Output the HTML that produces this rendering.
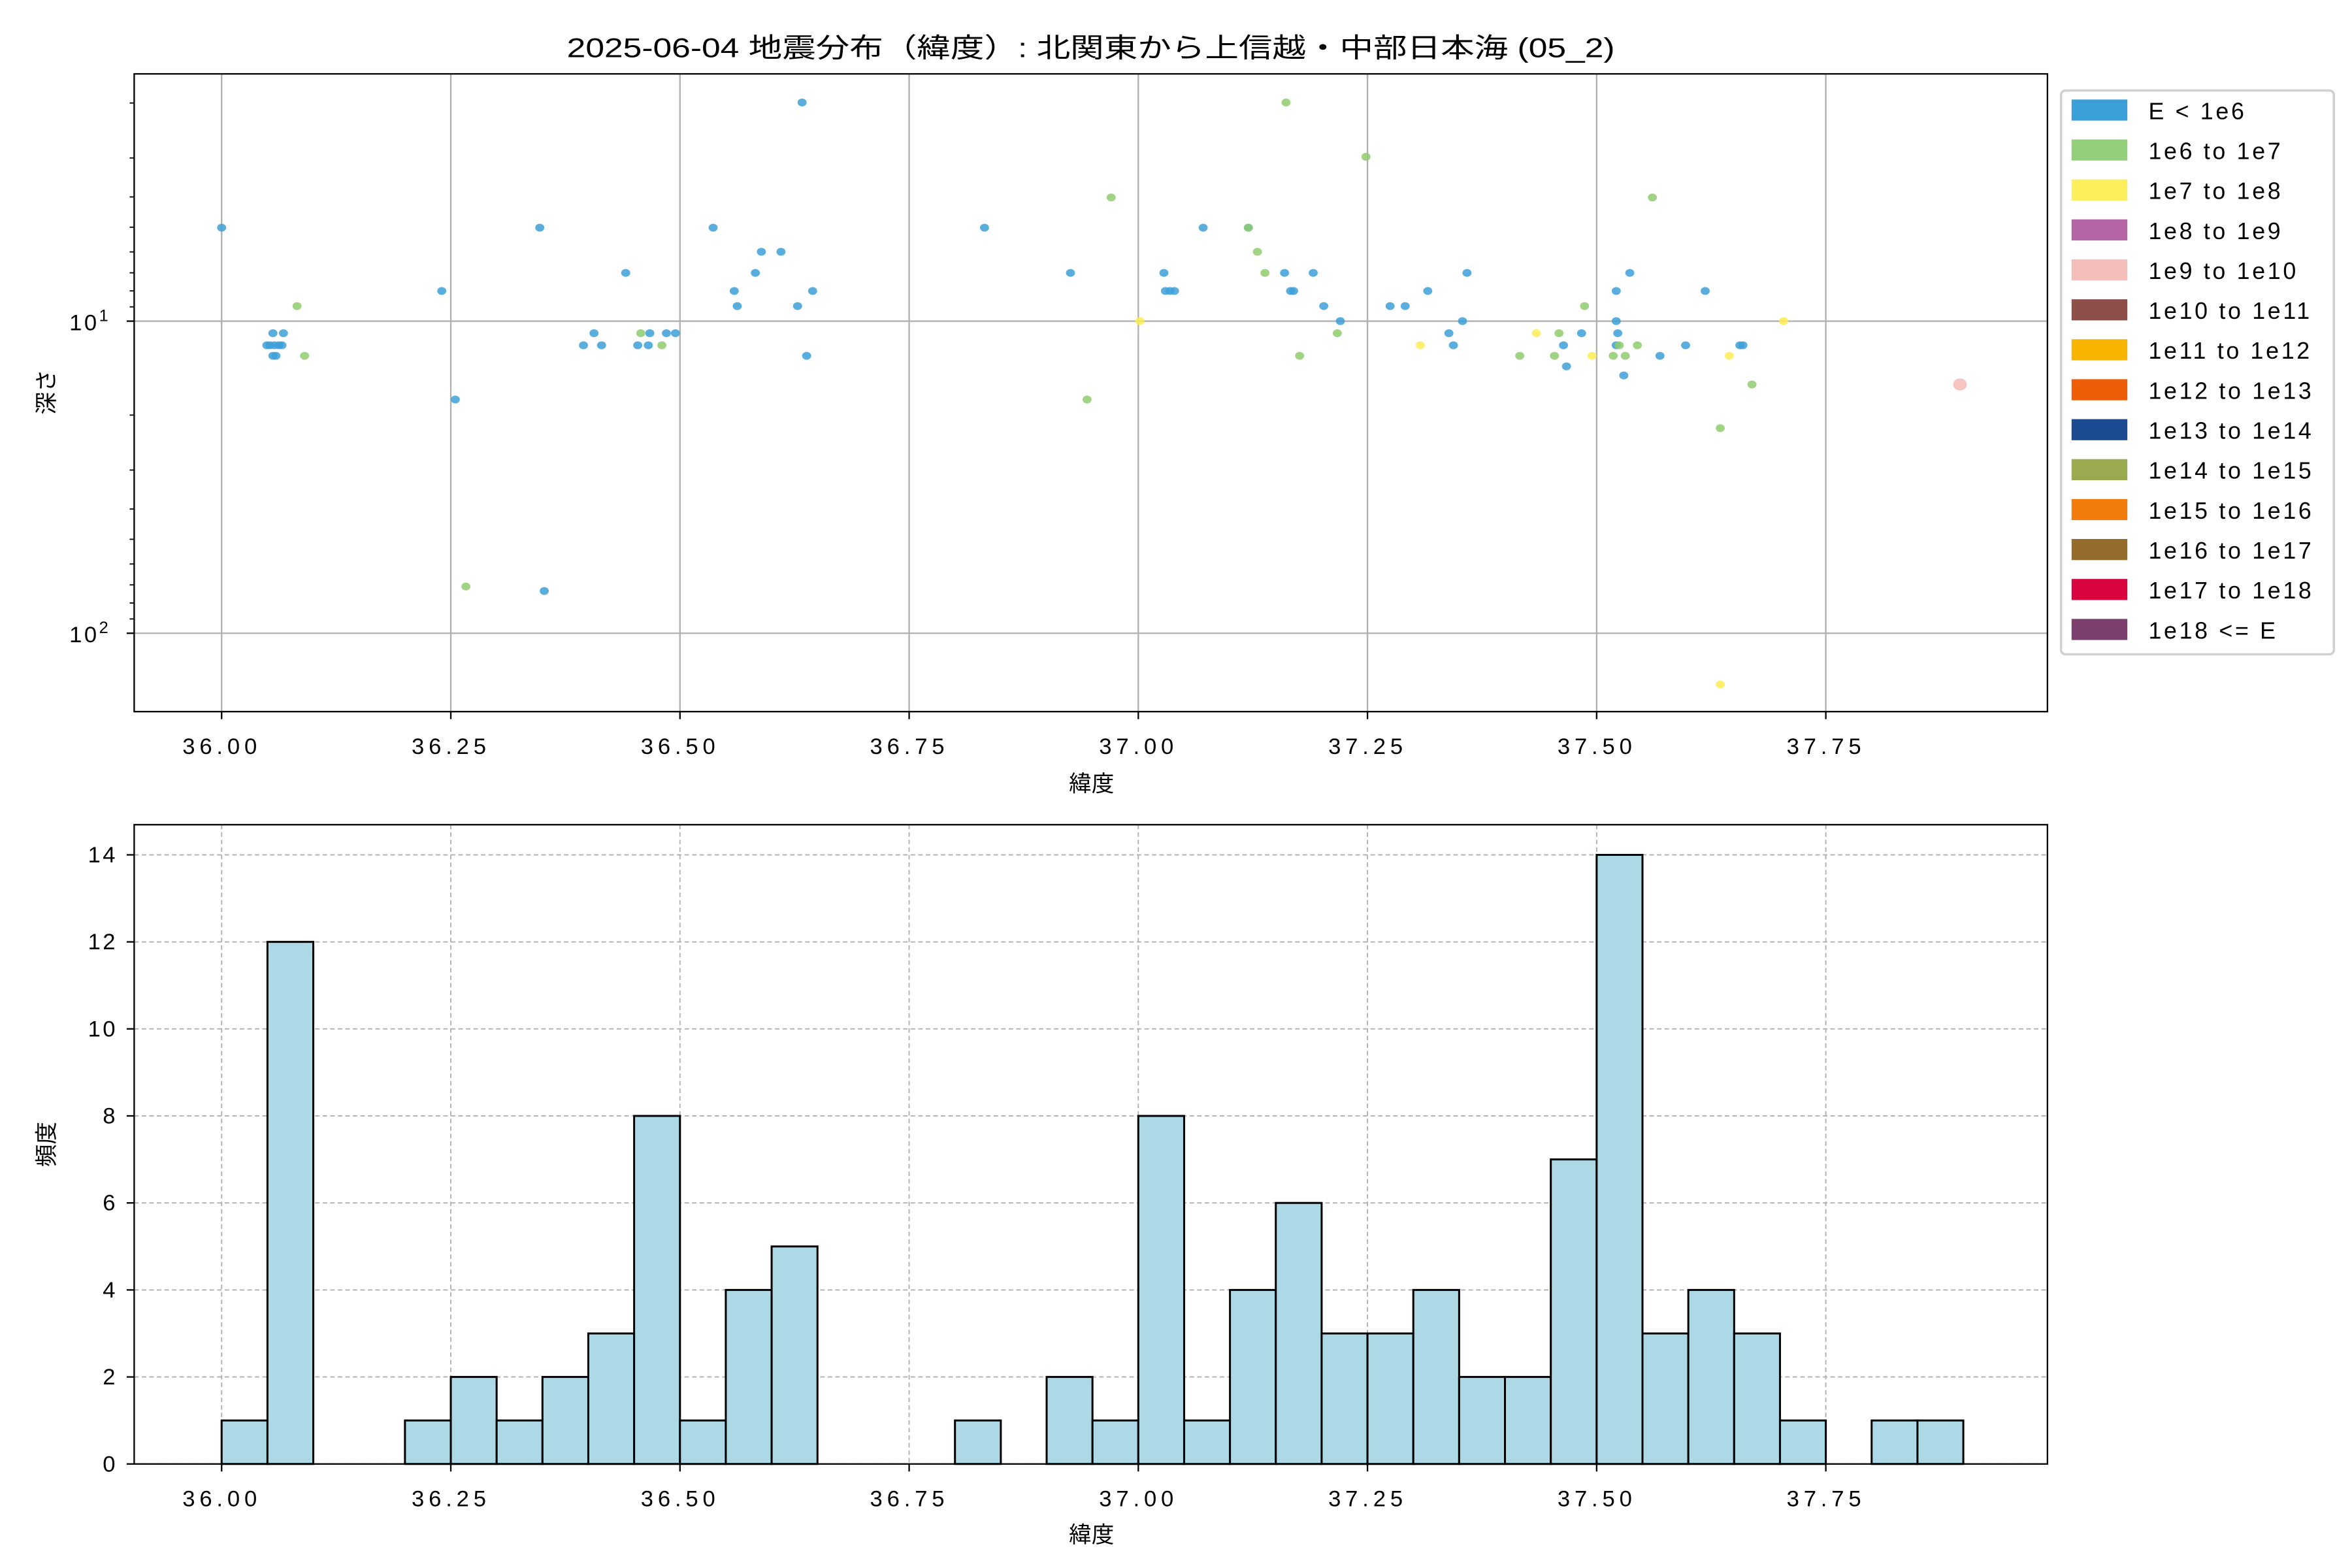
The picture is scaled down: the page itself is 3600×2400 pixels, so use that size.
<!DOCTYPE html>
<html><head><meta charset="utf-8"><style>html,body{margin:0;padding:0;background:#fff}svg{display:block}</style></head>
<body>
<svg id="s" xmlns="http://www.w3.org/2000/svg" width="3600" height="2400" viewBox="0 0 1560 1040" font-family="'Liberation Sans','Noto Sans CJK JP',sans-serif">
<rect width="1560" height="1040" fill="#fff"/>
<g id="g"></g>
</svg>
<script>
const g=document.getElementById('g');let h='';
const X=l=>147+(l-36)*608;
const Y1=d=>213+(Math.log10(d)-1)*207;
const Y2=c=>971-c*28.857;
const TS='font-size="15" letter-spacing="2.6"';
h+='<text x="376" y="38" font-size="18" textLength="695" lengthAdjust="spacingAndGlyphs">2025-06-04 地震分布（緯度）: 北関東から上信越・中部日本海 (05_2)</text>';
for(let i=0;i<8;i++){const x=X(36+i*0.25);const t=(36+i*0.25).toFixed(2);
h+=`<line x1="${x}" y1="49" x2="${x}" y2="472" stroke="#b0b0b0" stroke-width="1"/>`;
h+=`<line x1="${x}" y1="472" x2="${x}" y2="477" stroke="#000"/><text x="${x-26}" y="500" ${TS} textLength="52">${t}</text>`;
h+=`<line x1="${x}" y1="547" x2="${x}" y2="971" stroke="#b0b0b0" stroke-width="0.8" stroke-dasharray="3,2"/>`;
h+=`<line x1="${x}" y1="971" x2="${x}" y2="976" stroke="#000"/><text x="${x-26}" y="999" ${TS} textLength="52">${t}</text>`;}
[213,420].forEach((y,i)=>{h+=`<line x1="89" y1="${y}" x2="1358" y2="${y}" stroke="#b0b0b0"/><line x1="84" y1="${y}" x2="89" y2="${y}" stroke="#000"/><text x="46" y="${y+6}" font-size="15" letter-spacing="1.5">10<tspan dy="-6" font-size="11">${i+1}</tspan></text>`;});
for(const base of [1,10,100])for(let k=2;k<10;k++){const y=Y1(base*k);if(y>49&&y<472)h+=`<line x1="86" y1="${y}" x2="89" y2="${y}" stroke="#000" stroke-width="0.8"/>`;}
const C={b:'#3ca0d8',g:'#8fcd6f',y:'#feec55',p:'#f4bab6'};
const P={b:[[147,151],[177,229],[179,229],[181,236],[183,236],[182,229],[185,229],[187,229],[181,221],[188,221],[293,193],[302,265],[358,151],[361,392],[387,229],[394,221],[399,229],[415,181],[430,229],[423,229],[431,221],[442,221],[448,221],[473,151],[487,193],[489,203],[501,181],[505,167],[518,167],[529,203],[532,68],[535,236],[539,193],[653,151],[710,181],[772,181],[773,193],[776,193],[779,193],[798,151],[828,151],[852,181],[856,193],[858,193],[871,181],[878,203],[889,213],[922,203],[932,203],[947,193],[961,221],[964,229],[970,213],[973,181],[1037,229],[1039,243],[1049,221],[1072,193],[1072,213],[1073,221],[1072,229],[1077,249],[1081,181],[1101,236],[1118,229],[1131,193],[1154,229],[1156,229]],
g:[[197,203],[202,236],[309,389],[425,221],[439,229],[737,131],[721,265],[828,151],[834,167],[839,181],[853,68],[862,236],[887,221],[906,104],[1008,236],[1031,236],[1034,221],[1051,203],[1070,236],[1074,229],[1078,236],[1086,229],[1096,131],[1141,284],[1162,255]],
y:[[756,213],[942,229],[1019,221],[1056,236],[1147,236],[1183,213],[1141,454]],p:[[1300,255]]};
for(const k in P)P[k].forEach(([x,y])=>{h+=`<ellipse cx="${x}" cy="${y}" rx="${k=='p'?4.5:3}" ry="${k=='p'?4:2.6}" fill="${C[k]}" fill-opacity="0.85"/>`;});
h+='<rect x="89" y="49" width="1269" height="423" fill="none" stroke="#000"/>';
h+='<text x="724" y="525" font-size="15" text-anchor="middle">緯度</text>';
h+='<text transform="translate(36,260) rotate(-90)" font-size="15" text-anchor="middle">深さ</text>';
const L=[['E < 1e6','#3ca0d8'],['1e6 to 1e7','#93cf7a'],['1e7 to 1e8','#fdee5c'],['1e8 to 1e9','#b565a6'],['1e9 to 1e10','#f4bfba'],['1e10 to 1e11','#8e4f4a'],['1e11 to 1e12','#f7b500'],['1e12 to 1e13','#ee5d07'],['1e13 to 1e14','#1b4a90'],['1e14 to 1e15','#9aab4f'],['1e15 to 1e16','#f27c0b'],['1e16 to 1e17','#946c2c'],['1e17 to 1e18','#d9043e'],['1e18 <= E','#7b3f6e']];
h+='<rect x="1367" y="60" width="181" height="374" rx="3" fill="#fff" stroke="#d0d0d0" stroke-width="1.5"/>';
L.forEach(([t,c],i)=>{const y=73+i*26.5;h+=`<rect x="1374" y="${y-7}" width="37" height="14" fill="${c}"/><text x="1425" y="${y+6}" font-size="15.5" letter-spacing="1.6">${t}</text>`;});
for(let c=0;c<=14;c+=2){const y=Y2(c);h+=`<line x1="89" y1="${y}" x2="1358" y2="${y}" stroke="#b0b0b0" stroke-width="0.8" stroke-dasharray="3,2"/><line x1="84" y1="${y}" x2="89" y2="${y}" stroke="#000"/><text x="78" y="${y+5}" font-size="15" letter-spacing="1.5" text-anchor="end">${c}</text>`;}
const H=[1,12,0,0,1,2,1,2,3,8,1,4,5,0,0,0,1,0,2,1,8,1,4,6,3,3,4,2,2,7,14,3,4,3,1,0,1,1];
H.forEach((c,i)=>{if(!c)return;const x=X(36+i*0.05),w=30.4;h+=`<rect x="${x}" y="${Y2(c)}" width="${w}" height="${c*28.857}" fill="#add8e6" stroke="#000" stroke-width="1.3"/>`;});
h+='<rect x="89" y="547" width="1269" height="424" fill="none" stroke="#000"/>';
h+='<text x="724" y="1023" font-size="15" text-anchor="middle">緯度</text>';
h+='<text transform="translate(36,759) rotate(-90)" font-size="15" text-anchor="middle">頻度</text>';
g.innerHTML=h;
</script>
</body></html>
